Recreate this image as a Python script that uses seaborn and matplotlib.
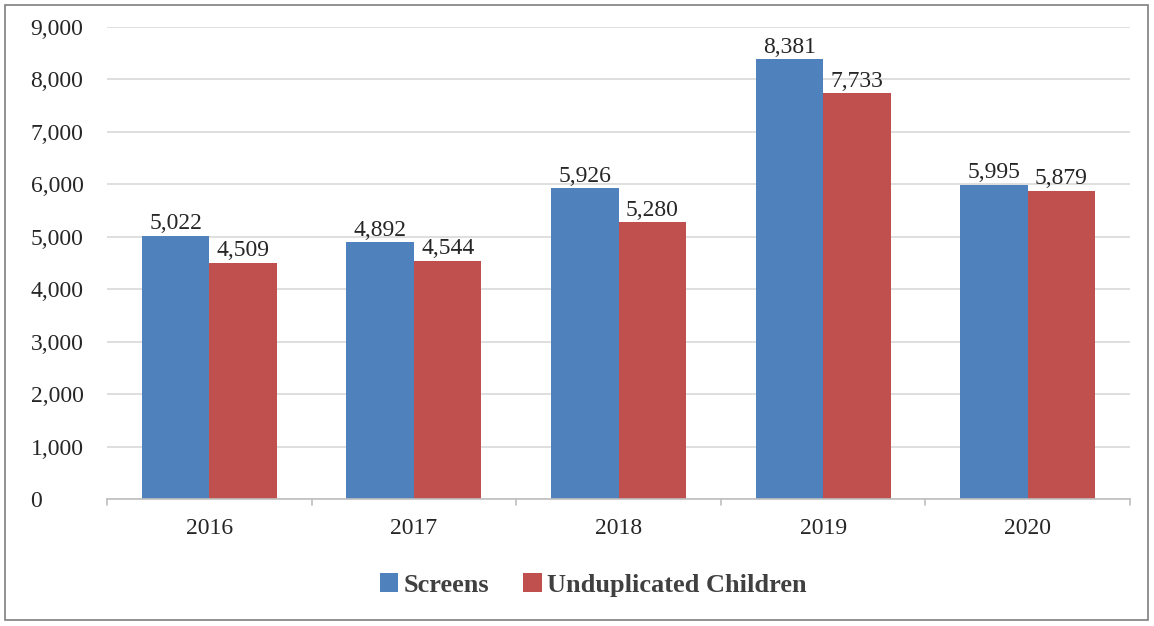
import matplotlib
matplotlib.use("Agg")
import matplotlib.pyplot as plt
import seaborn as sns
import pandas as pd
from matplotlib.patches import Rectangle
from matplotlib.ticker import FuncFormatter, MultipleLocator

years = ["2016", "2017", "2018", "2019", "2020"]
screens = [5022, 4892, 5926, 8381, 5995]
children = [4509, 4544, 5280, 7733, 5879]
series_names = ["Screens", "Unduplicated Children"]
colors = ["#4F81BD", "#C0504D"]

df = pd.DataFrame({
    "Year": years * 2,
    "Value": screens + children,
    "Series": [series_names[0]] * len(years) + [series_names[1]] * len(years),
})

sns.set_theme(style="white")
plt.rcParams["font.family"] = ["Liberation Serif", "DejaVu Serif"]

fig = plt.figure(figsize=(11.54, 6.26), dpi=100)
ax = fig.add_axes([107 / 1154, 1 - 499 / 626, (1130 - 107) / 1154, (499 - 27) / 626])

sns.barplot(data=df, x="Year", y="Value", hue="Series", palette=colors,
            width=0.66, saturation=1, ax=ax, legend=True, linewidth=0)

ax.set_ylim(0, 9000)
ax.yaxis.set_major_locator(MultipleLocator(1000))
ax.yaxis.set_major_formatter(FuncFormatter(lambda v, p: f"{int(v):,}"))
ax.grid(axis="y", color="#D9D9D9", linewidth=1.2)
ax.set_axisbelow(True)
for s in ["left", "right", "top"]:
    ax.spines[s].set_visible(False)
ax.spines["bottom"].set_color("#BFBFBF")
ax.spines["bottom"].set_linewidth(1.2)
ax.set_xlabel("")
ax.set_ylabel("")
ax.tick_params(axis="y", labelsize=17, labelcolor="#262626", length=0, pad=55)
ax.tick_params(axis="x", labelsize=17, labelcolor="#262626", length=0, pad=14)
for lbl in ax.get_yticklabels():
    lbl.set_horizontalalignment("left")

# category separator ticks on x axis
for b in [-0.5, 0.5, 1.5, 2.5, 3.5, 4.5]:
    ax.plot([b, b], [0, -120], color="#BFBFBF", lw=1.2, clip_on=False)
ax.set_xlim(-0.5, 4.5)

for cont in ax.containers:
    ax.bar_label(cont, labels=[f"{int(v):,}" for v in cont.datavalues],
                 fontsize=17, color="#262626", padding=1)

handles, labels = ax.get_legend_handles_labels()
ax.legend_.remove()
fig.legend(handles, labels, loc="center", bbox_to_anchor=(0.514, 1 - 585 / 626),
           ncol=2, frameon=False, prop={"family": "Liberation Serif", "weight": "bold", "size": 19},
           labelcolor="#404040", handlelength=0.7, handleheight=0.7,
           handletextpad=0.2, columnspacing=1.3)

fig.patches.append(Rectangle((5 / 1154, 1 - 620 / 626), (1148 - 5) / 1154, (620 - 5) / 626,
                             transform=fig.transFigure, fill=False,
                             edgecolor="#7F7F7F", linewidth=1.2))

fig.savefig("out.png", dpi=100, facecolor="white")
